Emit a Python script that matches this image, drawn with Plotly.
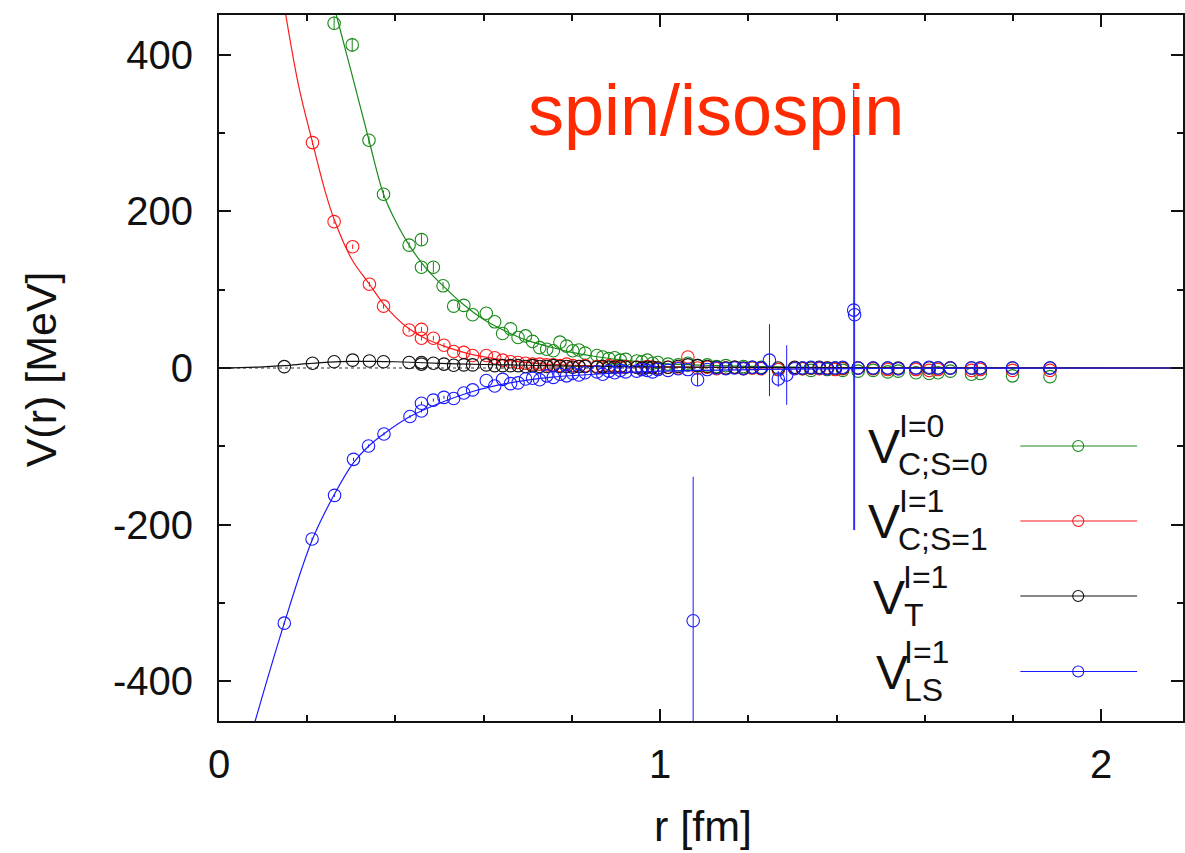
import plotly.graph_objects as go

# ---------------- data ----------------
# near-origin points, per series
g_r_near = [0.261, 0.302, 0.340, 0.373, 0.431, 0.459, 0.459, 0.486, 0.508]
g_v_near = [440.5, 412.8, 291, 222, 157, 164, 128.7, 128.7, 105]
g_e_near = [9, 9, 5, 5, 4, 7, 5, 7, 5]

r_r_near = [0.212, 0.261, 0.303, 0.341, 0.373, 0.431, 0.459, 0.459, 0.486, 0.510]
r_v_near = [288, 187, 155, 107, 79, 48.6, 49.4, 38, 38, 29]

k_r_near = [0.148, 0.212, 0.261, 0.303, 0.341, 0.373, 0.431, 0.459, 0.459, 0.486, 0.510]
k_v_near = [1.7, 6, 8, 10, 9, 8, 7, 7, 5, 6, 5]

b_r_near = [0.148, 0.211, 0.262, 0.305, 0.339, 0.374, 0.433, 0.459, 0.459, 0.486, 0.510]
b_v_near = [-326, -218.5, -162.7, -116.7, -99.7, -84.3, -62, -55, -45, -41, -37.5]

# shared larger-r lattice distances
r_far = [0.532, 0.555, 0.575, 0.606, 0.625, 0.643, 0.661, 0.678, 0.695, 0.711,
         0.727, 0.743, 0.758, 0.773, 0.788, 0.802, 0.816, 0.830, 0.857, 0.870,
         0.884, 0.897, 0.910, 0.922, 0.947, 0.959, 0.971, 0.983, 0.995, 1.018,
         1.041, 1.063, 1.085, 1.107, 1.128, 1.149, 1.169, 1.189, 1.209, 1.229,
         1.268, 1.305, 1.323, 1.342, 1.361, 1.379, 1.397, 1.414, 1.449, 1.483,
         1.516, 1.540, 1.580, 1.610, 1.630, 1.658, 1.706, 1.726, 1.799, 1.884]

g_v_far = [79, 80, 68, 70, 59, 44, 50, 39, 41, 34,
           26, 24, 22, 33, 28, 22, 23, 19, 16, 14,
           12, 13, 10, 11, 9, 8, 10, 6, 7, 5,
           4, 6, 3, 4, 2, 3, 1, 2, 0, 1,
           -2, 0, -1, -3, 0, -2, -1, -3, -4, -3,
           -5, -4, -6, -7, -6, -4, -8, -7, -10, -11]

r_v_far = [21, 20, 16, 16, 13, 10, 8, 7, 6, 5,
           5, 4, 4, 3, 5, 3, 2, 3, 2, 1,
           3, 2, 1, 2, 1, 0, 2, 1, 0, 1,
           0, 14, 0, 1, -1, 0, 1, -1, 0, -1,
           -2, 0, -1, 0, -1, 0, -2, -1, 0, -1,
           -2, -1, -2, -3, -2, 0, -3, -2, -3, -3]

k_v_far = [3.5, 4, 4, 4, 3, 3, 3, 3, 2, 3,
           2, 2, 3, 2, 2, 1, 2, 2, 1, 2,
           1, 1, 2, 1, 1, 0, 1, 1, 0, 1,
           2, 4, 3, 2, 1, 0, 1, 0, 1, 0,
           0, 1, 0, 0, 1, 0, 0, 0, 0, 0,
           0, 0, 0, 0, 0, 0, 0, 0, 0, 0]

b_v_far = [-39, -32, -28, -16, -23, -14.5, -20, -19, -14, -13,
           -15, -10, -12, -8, -10, -7, -9, -6, -5, -8,
           -4, -6, -3, -5, -4, -2, -3, -5, -2, -3,
           -1, -2, -15, -2, 0, -1, 0, -1, 1, 0,
           -14, -1, 0, 1, 0, -1, 0, 1, 0, 0,
           0, -1, 0, 1, 0, 0, 0, 0, 0, 0]
b_e_far = [0, 0, 0, 0, 0, 0, 0, 0, 0, 0,
           0, 0, 0, 0, 0, 0, 0, 0, 0, 0,
           0, 0, 0, 0, 0, 0, 0, 0, 0, 0,
           0, 0, 8, 0, 0, 0, 0, 0, 0, 0,
           10, 0, 0, 0, 0, 0, 0, 0, 0, 0,
           0, 0, 0, 0, 0, 0, 0, 0, 0, 0]

# noisy blue points with large error bars
b_r_out = [1.075, 1.248, 1.287, 1.439, 1.441]
b_v_out = [-323, 10, -9, 74, 68]
b_e_out = [184, 46, 38, 281, 275]

# fit curves
g_fit_r = [0.255, 0.266, 0.30, 0.34, 0.373, 0.40, 0.431, 0.47, 0.508, 0.55, 0.60, 0.65,
           0.70, 0.75, 0.80, 0.85, 0.90, 1.0, 1.1, 1.2, 1.4, 1.6, 1.9, 2.2]
g_fit_v = [475, 451, 378, 291, 222, 188, 157, 127, 105, 83, 62, 47,
           35, 27, 20, 15, 11, 6, 3.5, 2, 0.5, 0, 0, 0]

r_fit_r = [0.14, 0.18, 0.212, 0.24, 0.261, 0.30, 0.341, 0.373, 0.40, 0.431, 0.47, 0.51,
           0.575, 0.65, 0.725, 0.8, 0.9, 1.0, 1.2, 1.5, 2.2]
r_fit_v = [490, 362, 288, 227, 190, 140, 107, 82, 65, 50, 37, 28,
           17, 10, 5.5, 3.5, 2, 1, 0.3, 0, 0]

k_fit_r = [0, 0.05, 0.10, 0.148, 0.20, 0.25, 0.30, 0.35, 0.40, 0.50, 0.60, 0.70,
           0.80, 1.0, 1.2, 1.5, 2.2]
k_fit_v = [0, 0.5, 1.5, 3, 5.5, 7.5, 8.5, 8.5, 8, 6, 4.5, 3.5,
           2.5, 1.5, 0.8, 0.3, 0]

b_fit_r = [0.07, 0.082, 0.148, 0.211, 0.262, 0.305, 0.339, 0.374, 0.433, 0.50, 0.575,
           0.65, 0.75, 0.85, 1.0, 1.2, 1.5, 2.2]
b_fit_v = [-475, -451, -326, -220, -161, -121, -100, -84, -62, -45, -30,
           -20, -12, -8, -4, -2, -0.5, 0]

x_ticks = [0, 1, 2]
y_ticks = [-400, -200, 0, 200, 400]

GREEN, RED, BLACK, BLUE = "#1a8a1a", "#ff1a1a", "#111111", "#1a1aff"

# ---------------- figure ----------------
W, H = 1185, 853
PL, PT, PR, PB = 219, 15, 0, 132
PW, PH = W - PL - PR, H - PT - PB
XMAX = 2.1855
YMIN, YMAX = -451, 451

def px(x):
    return (x - PL) / PW

def py(y):
    return (PT + PH - y) / PH

def dx(pix):
    return (pix - PL) / PW * XMAX

def dy(pix):
    return YMAX - (pix - PT) / PH * (YMAX - YMIN)

FONT = "Liberation Sans, Arial, Helvetica, sans-serif"
MSIZE = 12.5

fig = go.Figure()

# dotted zero line
fig.add_trace(go.Scatter(x=[0, XMAX], y=[0, 0], mode="lines",
                         line=dict(color="#777777", width=1.4, dash="dot"),
                         showlegend=False, hoverinfo="skip"))

def add_series(color, r, v, err, fr, fv):
    fig.add_trace(go.Scatter(x=fr, y=fv, mode="lines", line=dict(color=color, width=1.2, shape="spline"),
                             showlegend=False, hoverinfo="skip"))
    fig.add_trace(go.Scatter(x=r, y=v, mode="markers",
                             marker=dict(symbol="circle-open", size=MSIZE, color=color, line=dict(width=1.1)),
                             error_y=dict(type="data", array=err, color=color, thickness=1, width=0, visible=True),
                             showlegend=False))

add_series(GREEN, g_r_near + r_far, g_v_near + g_v_far, g_e_near + [0] * len(r_far), g_fit_r, g_fit_v)
add_series(RED, r_r_near + r_far, r_v_near + r_v_far, [3] * len(r_r_near) + [0] * len(r_far), r_fit_r, r_fit_v)
add_series(BLACK, k_r_near + r_far, k_v_near + k_v_far, [0] * (len(k_r_near) + len(r_far)), k_fit_r, k_fit_v)
add_series(BLUE, b_r_near + r_far + b_r_out, b_v_near + b_v_far + b_v_out,
           [2] * len(b_r_near) + b_e_far + b_e_out, b_fit_r, b_fit_v)

# legend samples (drawn inside the plot)
leg_rows = [(446, GREEN), (521, RED), (596, BLACK), (671.5, BLUE)]
for ypix, col in leg_rows:
    fig.add_trace(go.Scatter(x=[dx(1022), dx(1139)], y=[dy(ypix), dy(ypix)], mode="lines",
                             line=dict(color=col, width=1.1), showlegend=False, hoverinfo="skip"))
    fig.add_trace(go.Scatter(x=[dx(1080)], y=[dy(ypix)], mode="markers",
                             marker=dict(symbol="circle-open", size=11, color=col, line=dict(width=1.1)),
                             showlegend=False, hoverinfo="skip"))

ann = []
def text(s, x, y, size, color="#111111", xa="center", ya="middle", angle=0):
    ann.append(dict(text=s, x=px(x), y=py(y), xref="paper", yref="paper", showarrow=False,
                    xanchor=xa, yanchor=ya, textangle=angle,
                    font=dict(family=FONT, size=size, color=color)))

text("spin/isospin", 717, 110, 72, color="#ff2a00")
text("r [fm]", 704, 826, 43)
text("V(r) [MeV]", 41, 369, 43, angle=-90)

# legend labels: V with stacked superscript / subscript
leg_lab = [
    (867, 446, "I=0", "C;S=0", 898, 897),
    (867, 521, "I=1", "C;S=1", 898, 897),
    (872, 597, "I=1", "T", 902, 903),
    (875, 672, "I=1", "LS", 903, 903),
]
for vx, vy, sup, sub, supx, subx in leg_lab:
    text("V", vx, vy, 48, xa="left")
    text(sup, supx, vy - 20, 32, xa="left")
    text(sub, subx, vy + 18, 32, xa="left")

fig.update_layout(
    width=W, height=H,
    margin=dict(l=PL, r=PR, t=PT, b=PB),
    paper_bgcolor="white", plot_bgcolor="white",
    showlegend=False,
    annotations=ann,
    font=dict(family=FONT, color="#111111"),
)
axis_common = dict(showgrid=False, zeroline=False, showline=True, linecolor="#111111", linewidth=2,
                   mirror="ticks", ticks="inside", ticklen=12, tickwidth=1.5, tickcolor="#111111",
                   tickfont=dict(family=FONT, size=40, color="#111111"))
fig.update_xaxes(range=[0, XMAX], tickvals=x_ticks, ticktext=[str(v) for v in x_ticks],
                 minor=dict(dtick=0.2, tick0=0, ticks="inside", ticklen=6, tickwidth=1.5, tickcolor="#111111"),
                 ticklabelstandoff=7, **axis_common)
fig.update_yaxes(range=[YMIN, YMAX], tickvals=y_ticks, ticktext=[str(v) for v in y_ticks],
                 minor=dict(dtick=100, tick0=0, ticks="inside", ticklen=6, tickwidth=1.5, tickcolor="#111111"),
                 ticklabelstandoff=16, **axis_common)

fig.write_html("out.html")
